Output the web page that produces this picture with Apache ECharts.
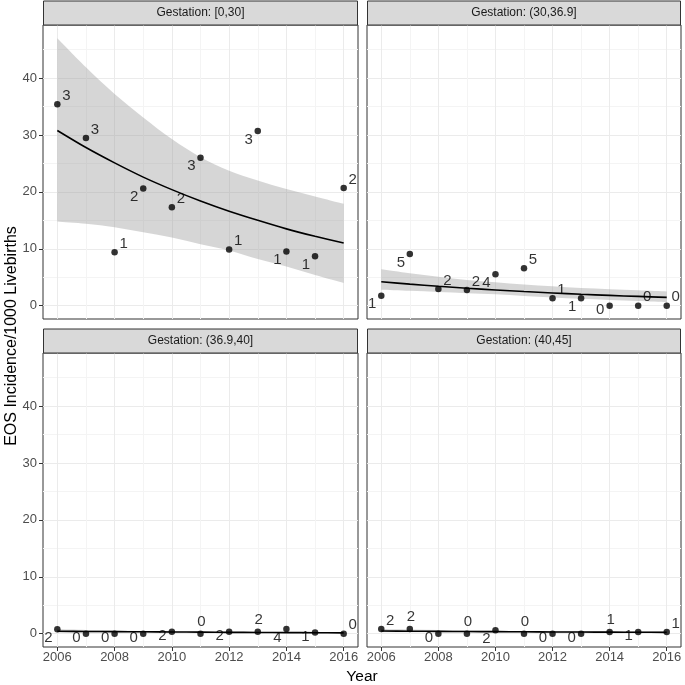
<!DOCTYPE html>
<html><head><meta charset="utf-8">
<script src="https://cdn.jsdelivr.net/npm/echarts@6/dist/echarts.min.js"></script>
<style>html,body{margin:0;padding:0;background:#fff}#c{width:685px;height:685px}</style>
</head><body><div id="c"></div>
<script>
// ---------- data ----------
const years = [2006, 2007, 2008, 2009, 2010, 2011, 2012, 2013, 2014, 2015, 2016];
const panelTitles = ['Gestation: [0,30]', 'Gestation: (30,36.9]', 'Gestation: (36.9,40]', 'Gestation: (40,45]'];
const xTicks = [2006, 2008, 2010, 2012, 2014, 2016];
const xMinorTicks = [2007, 2009, 2011, 2013, 2015];
const yTicks = [0, 10, 20, 30, 40];
const yMinorTicks = [5, 15, 25, 35, 45];

// Gestation [0,30]
const rate_0_30  = [35.4, 29.5, 9.4, 20.6, 17.3, 26.0, 9.85, 30.7, 9.5, 8.7, 20.7];
const count_0_30 = [3, 3, 1, 2, 2, 3, 1, 3, 1, 1, 2];
const fit_0_30   = [30.8, 27.8, 25.1, 22.6, 20.4, 18.4, 16.6, 15.0, 13.5, 12.2, 11.0];
const upper_0_30 = [47.0, 41.9, 37.2, 33.1, 29.3, 26.1, 23.7, 22.0, 20.5, 19.2, 17.9];
const lower_0_30 = [14.8, 14.4, 13.8, 12.9, 12.0, 10.8, 9.7, 8.2, 6.9, 5.4, 4.0];

// Gestation (30,36.9]
const rate_30_369  = [1.76, 9.1, 2.93, 2.76, 5.5, 6.57, 1.3, 1.3, 0.0, 0.0, 0.0];
const count_30_369 = [1, 5, 2, 2, 4, 5, 1, 1, 0, 0, 0];
const fit_30_369   = [4.2, 3.78, 3.4, 3.06, 2.76, 2.48, 2.23, 2.0, 1.8, 1.62, 1.46];
const upper_30_369 = [6.4, 5.7, 5.1, 4.5, 4.1, 3.7, 3.4, 3.1, 2.9, 2.7, 2.5];
const lower_30_369 = [2.8, 2.6, 2.4, 2.2, 2.0, 1.7, 1.45, 1.2, 1.0, 0.8, 0.6];

// Gestation (36.9,40]
const rate_369_40  = [0.75, 0.0, 0.0, 0.0, 0.35, 0.0, 0.35, 0.35, 0.8, 0.18, 0.0];
const count_369_40 = [2, 0, 0, 0, 2, 0, 2, 2, 4, 1, 0];
const fit_369_40   = [0.42, 0.38, 0.35, 0.32, 0.29, 0.26, 0.23, 0.2, 0.18, 0.16, 0.14];
const upper_369_40 = [0.75, 0.65, 0.56, 0.48, 0.42, 0.37, 0.33, 0.3, 0.29, 0.28, 0.28];
const lower_369_40 = [0.22, 0.21, 0.2, 0.19, 0.18, 0.16, 0.14, 0.12, 0.1, 0.08, 0.06];

// Gestation (40,45]
const rate_40_45  = [0.8, 0.8, 0.0, 0.0, 0.58, 0.0, 0.0, 0.0, 0.28, 0.28, 0.28];
const count_40_45 = [2, 2, 0, 0, 2, 0, 0, 0, 1, 1, 1];
const fit_40_45   = [0.46, 0.43, 0.4, 0.37, 0.35, 0.32, 0.3, 0.28, 0.26, 0.24, 0.22];
const upper_40_45 = [0.8, 0.72, 0.64, 0.57, 0.51, 0.46, 0.43, 0.42, 0.42, 0.42, 0.43];
const lower_40_45 = [0.26, 0.25, 0.24, 0.23, 0.22, 0.21, 0.19, 0.17, 0.15, 0.13, 0.11];

// ---------- styling ----------
const FONT = '"Liberation Sans", Arial, Helvetica, sans-serif';
const labelSides = [
  ['ur','ur','ur','ll','ur','ll','ur','ll','ll','ll','ur'],
  ['ll','ll','ur','ur','ll','ur','ur','ll','l','ur','ur'],
  ['ll','l','l','l','l','t','l','t','ll','l','ur'],
  ['ur','t','l','t','ll','t','l','l','t','l','ur']
];
const sideOffset = { ur: [9, -8.5], ll: [-9, 8.5], l: [-9.5, 4], t: [1, -12] };

const panels = [
  { rate: rate_0_30, count: count_0_30, fit: fit_0_30, upper: upper_0_30, lower: lower_0_30 },
  { rate: rate_30_369, count: count_30_369, fit: fit_30_369, upper: upper_30_369, lower: lower_30_369 },
  { rate: rate_369_40, count: count_369_40, fit: fit_369_40, upper: upper_369_40, lower: lower_369_40 },
  { rate: rate_40_45, count: count_40_45, fit: fit_40_45, upper: upper_40_45, lower: lower_40_45 }
];

const gridBoxes = [
  { left: 43, top: 25, width: 315, height: 294 },
  { left: 367, top: 25, width: 314, height: 294 },
  { left: 43, top: 353, width: 315, height: 294 },
  { left: 367, top: 353, width: 314, height: 294 }
];
const XMIN = 2005.5, XMAX = 2016.5, YMIN = -2.35, YMAX = 49.35;

// smooth path through pixel points (Catmull-Rom as cubic Beziers)
function splineSegs(pts) {
  let d = '';
  for (let k = 0; k < pts.length - 1; k++) {
    const p0 = pts[Math.max(k - 1, 0)], p1 = pts[k], p2 = pts[k + 1], p3 = pts[Math.min(k + 2, pts.length - 1)];
    const c1 = [p1[0] + (p2[0] - p0[0]) / 6, p1[1] + (p2[1] - p0[1]) / 6];
    const c2 = [p2[0] - (p3[0] - p1[0]) / 6, p2[1] - (p3[1] - p1[1]) / 6];
    d += ' C ' + c1[0] + ' ' + c1[1] + ' ' + c2[0] + ' ' + c2[1] + ' ' + p2[0] + ' ' + p2[1];
  }
  return d;
}

const grids = [], xAxes = [], yAxes = [], series = [], graphics = [];

gridBoxes.forEach((g, i) => {
  const isBottom = i >= 2, isLeft = i % 2 === 0;
  grids.push({ left: g.left, top: g.top, width: g.width, height: g.height, show: true,
    borderColor: '#333333', borderWidth: 1, backgroundColor: '#ffffff', containLabel: false });
  xAxes.push({ type: 'value', gridIndex: i, min: XMIN, max: XMAX, position: 'bottom',
    axisLine: { show: false, onZero: false },
    axisTick: { show: isBottom, length: 4, customValues: xTicks, lineStyle: { color: '#333333', width: 1 } },
    axisLabel: { show: isBottom, customValues: xTicks, color: '#4d4d4d', fontSize: 13, fontFamily: FONT, margin: 4,
      formatter: (v) => String(v) },
    splitLine: { show: true, lineStyle: { color: '#ebebeb', width: 1 } }
  });
  xAxes.push({ type: 'value', gridIndex: i, min: XMIN, max: XMAX, position: 'top',
    axisLine: { show: false, onZero: false },
    axisTick: { show: false, customValues: xMinorTicks },
    axisLabel: { show: false, customValues: xMinorTicks },
    splitLine: { show: true, lineStyle: { color: '#f4f4f4', width: 1 } }
  });
  yAxes.push({ type: 'value', gridIndex: i, min: YMIN, max: YMAX, position: 'left',
    axisLine: { show: false, onZero: false },
    axisTick: { show: isLeft, length: 4, customValues: yTicks, lineStyle: { color: '#333333', width: 1 } },
    axisLabel: { show: isLeft, customValues: yTicks, color: '#4d4d4d', fontSize: 13, fontFamily: FONT, margin: 6,
      formatter: (v) => String(v) },
    splitLine: { show: true, lineStyle: { color: '#ebebeb', width: 1 } }
  });
  yAxes.push({ type: 'value', gridIndex: i, min: YMIN, max: YMAX, position: 'right',
    axisLine: { show: false, onZero: false },
    axisTick: { show: false, customValues: yMinorTicks },
    axisLabel: { show: false, customValues: yMinorTicks },
    splitLine: { show: true, lineStyle: { color: '#f4f4f4', width: 1 } }
  });

  const p = panels[i];
  const xi = 2 * i, yi = 2 * i;
  // confidence ribbon
  series.push({
    type: 'custom', xAxisIndex: xi, yAxisIndex: yi, z: 2, silent: true,
    data: years.map((y, k) => [y, p.lower[k], p.upper[k]]),
    encode: { x: 0, y: [1, 2] },
    renderItem: function (params, api) {
      if (params.dataIndex !== 0) return null;
      const up = years.map((y, k) => api.coord([y, p.upper[k]]));
      const lo = years.map((y, k) => api.coord([y, p.lower[k]])).reverse();
      let d = 'M ' + up[0][0] + ' ' + up[0][1] + splineSegs(up);
      d += ' L ' + lo[0][0] + ' ' + lo[0][1] + splineSegs(lo) + ' Z';
      return { type: 'path', shape: { pathData: d },
        style: { fill: 'rgba(153,153,153,0.4)', stroke: null } };
    }
  });
  // fitted line
  series.push({
    type: 'line', xAxisIndex: xi, yAxisIndex: yi, z: 3, silent: true,
    data: years.map((y, k) => [y, p.fit[k]]),
    showSymbol: false, symbol: 'none', smooth: 0.3,
    lineStyle: { color: '#000000', width: 1.6 }
  });
  // points with count labels
  const sides = labelSides[i];
  series.push({
    type: 'scatter', xAxisIndex: xi, yAxisIndex: yi, z: 4, silent: true,
    symbolSize: 6.5, itemStyle: { color: '#000000' },
    data: years.map((y, k) => ({ value: [y, p.rate[k]], label: { offset: sideOffset[sides[k]] } })),
    label: { show: true, position: 'inside', color: '#000000', fontSize: 15, fontFamily: FONT,
      formatter: (prm) => String(p.count[prm.dataIndex]) }
  });

  const stripTop = g.top - 24.5;
  graphics.push({ type: 'rect', z: 10,
    shape: { x: g.left + 0.5, y: stripTop + 0.5, width: g.width - 1, height: 24 },
    style: { fill: '#d9d9d9', stroke: '#333333', lineWidth: 1 } });
  graphics.push({ type: 'text', z: 11,
    style: { text: panelTitles[i], x: g.left + g.width / 2, y: stripTop + 12.5, align: 'center', verticalAlign: 'middle',
      fill: '#1a1a1a', font: '12px ' + FONT } });
});

graphics.push({ type: 'text', z: 11,
  style: { text: 'Year', x: 362, y: 677, align: 'center', verticalAlign: 'middle', fill: '#000000', font: '15.5px ' + FONT } });
graphics.push({ type: 'text', z: 11, rotation: Math.PI / 2, x: 12, y: 336,
  style: { text: 'EOS Incidence/1000 Livebirths', x: 0, y: 0, align: 'center', verticalAlign: 'middle', fill: '#000000', font: '16px ' + FONT } });

const chart = echarts.init(document.getElementById('c'), null, { renderer: 'canvas' });
chart.setOption({
  animation: false,
  backgroundColor: '#ffffff',
  textStyle: { fontFamily: FONT },
  grid: grids, xAxis: xAxes, yAxis: yAxes, series: series, graphic: graphics
});
</script>
</body></html>
